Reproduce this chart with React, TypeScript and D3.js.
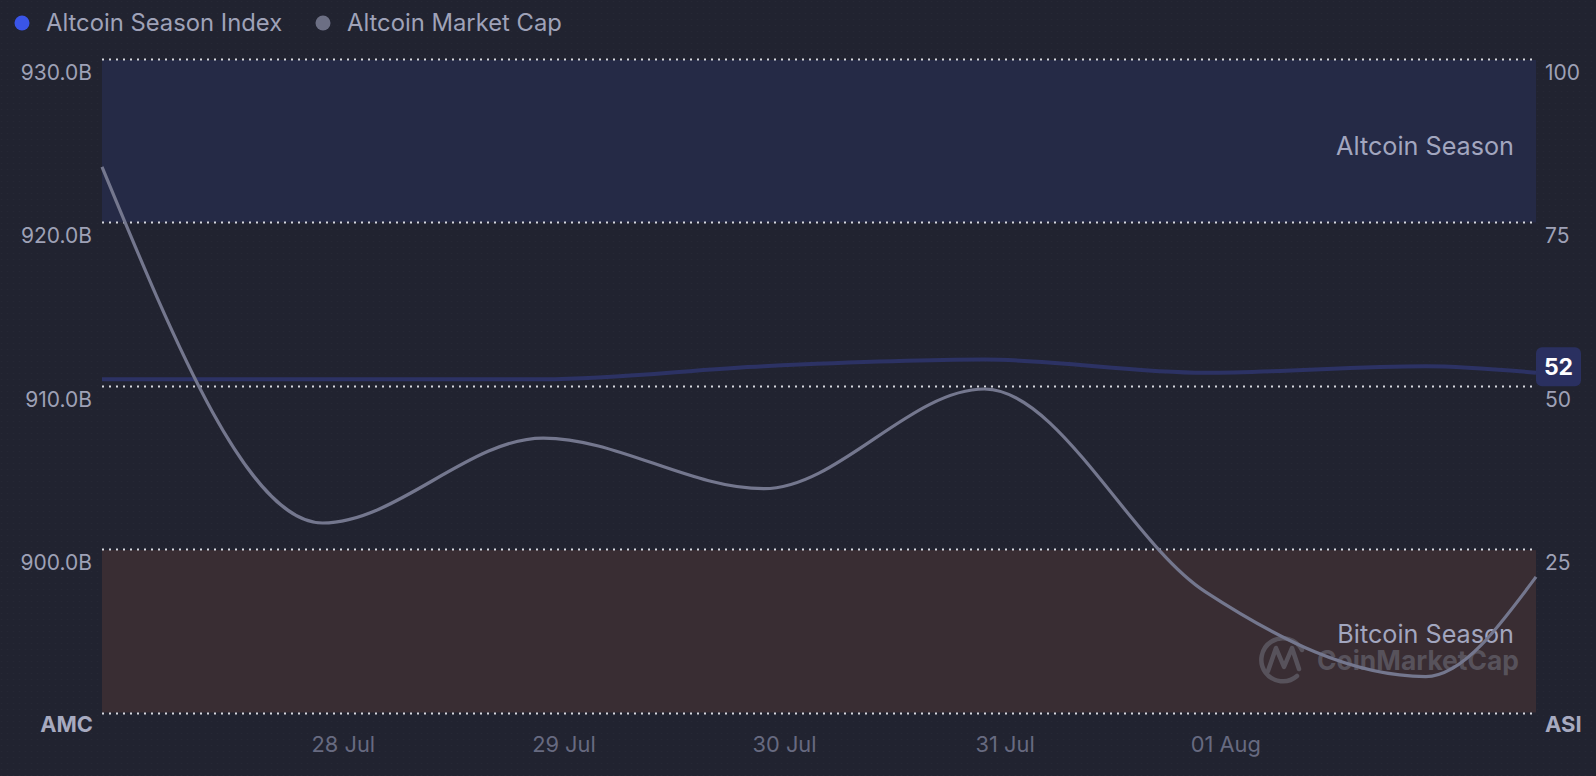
import React from "react";
import * as d3 from "d3";

const W = 1596;
const H = 776;

const dates = [
  "2024-07-26T21:45:00Z",
  "2024-07-27T21:45:00Z",
  "2024-07-28T21:45:00Z",
  "2024-07-29T21:45:00Z",
  "2024-07-30T21:45:00Z",
  "2024-07-31T21:45:00Z",
  "2024-08-01T21:45:00Z",
  "2024-08-02T09:45:00Z",
];
const altcoinSeasonIndex = [51, 51, 51, 53, 54, 52, 53, 52];
const altcoinMarketCap = [923.4, 901.6, 906.8, 903.7, 909.8, 897.4, 892.2, 898.3];

const capTicks = [890, 900, 910, 920, 930];
const capTickLabels = ["", "900.0B", "910.0B", "920.0B", "930.0B"];
const asiTicks = [0, 25, 50, 75, 100];
const asiTickLabels = ["", "25", "50", "75", "100"];
const xTickDates = ["2024-07-28", "2024-07-29", "2024-07-30", "2024-07-31", "2024-08-01"];
const xTickLabels = ["28 Jul", "29 Jul", "30 Jul", "31 Jul", "01 Aug"];

const legendItems = [
  { label: "Altcoin Season Index", color: "#3a55e8" },
  { label: "Altcoin Market Cap", color: "#6c6f84" },
];

const FONT = "Inter, 'Noto Sans', sans-serif";

export default function App() {
  const left = 102;
  const right = 1536;
  const top = 59;
  const bottom = 712.5;

  const parsed = dates.map((d) => new Date(d));
  const x = d3
    .scaleUtc()
    .domain([parsed[0], parsed[parsed.length - 1]])
    .range([left, right]);
  const yCap = d3.scaleLinear().domain([890, 930]).range([bottom, top]);
  const yAsi = d3.scaleLinear().domain([0, 100]).range([bottom, top]);

  const capLine = d3
    .line<number>()
    .x((_, i) => x(parsed[i]))
    .y((v) => yCap(v))
    .curve(d3.curveMonotoneX)(altcoinMarketCap) as string;
  const asiLine = d3
    .line<number>()
    .x((_, i) => x(parsed[i]))
    .y((v) => yAsi(v))
    .curve(d3.curveMonotoneX)(altcoinSeasonIndex) as string;

  const lastAsi = altcoinSeasonIndex[altcoinSeasonIndex.length - 1];
  const badgeCy = yAsi(lastAsi) - 6;

  return (
    <svg
      width={W}
      height={H}
      style={{ position: "absolute", left: 0, top: 0, display: "block", background: "#212330" }}
      fontFamily={FONT}
    >
      <defs>
        <pattern id="dots" width="6" height="6" patternUnits="userSpaceOnUse">
          <circle cx="1.5" cy="1.5" r="0.6" fill="rgba(255,255,255,0.025)" />
        </pattern>
      </defs>
      <rect x={0} y={0} width={W} height={H} fill="#212330" />
      <rect x={0} y={0} width={W} height={H} fill="url(#dots)" />

      {/* legend */}
      <g>
        <circle cx={22} cy={23} r={7.5} fill={legendItems[0].color} />
        <text x={46} y={31} fontSize={23.8} fill="#9fa2b8">
          {legendItems[0].label}
        </text>
        <circle cx={323} cy={23} r={7.5} fill={legendItems[1].color} />
        <text x={347} y={31} fontSize={23.8} fill="#9fa2b8">
          {legendItems[1].label}
        </text>
      </g>

      {/* bands */}
      <rect x={left} y={yAsi(100) + 1} width={right - left} height={yAsi(75) - yAsi(100) - 1} fill="#252a46" />
      <rect x={left} y={yAsi(25) + 1} width={right - left} height={yAsi(0) - yAsi(25) - 1} fill="#392d33" />

      {/* band labels */}
      <text x={1514} y={155} textAnchor="end" fontSize={25.2} fill="#a2a6bf">
        Altcoin Season
      </text>
      <text x={1514} y={643} textAnchor="end" fontSize={25.2} fill="#a2a6bf">
        Bitcoin Season
      </text>

      {/* watermark */}
      <g opacity={0.45} stroke="#7d7f8c" fill="none">
        <path
          d="M 1302 650 A 21.5 21.5 0 1 0 1297 676"
          strokeWidth={4.5}
          strokeLinecap="round"
        />
        <path
          d="M 1268 671 L 1276 648 L 1284 667 L 1292 648 L 1299 669"
          strokeWidth={4.5}
          strokeLinejoin="round"
          strokeLinecap="round"
        />
      </g>
      <text
        x={1317}
        y={670}
        fontSize={27}
        fontWeight={700}
        fill="#7d7f8c"
        opacity={0.45}
        textLength={202}
        lengthAdjust="spacingAndGlyphs"
      >
        CoinMarketCap
      </text>

      {/* gridlines */}
      {asiTicks.map((t) => (
        <line
          key={"g" + t}
          x1={left}
          x2={right}
          y1={Math.round(yAsi(t)) + 0.5}
          y2={Math.round(yAsi(t)) + 0.5}
          stroke="#d6d7de"
          strokeWidth={2}
          strokeDasharray="2 5"
        />
      ))}

      {/* series */}
      <path d={asiLine} fill="none" stroke="#2c3264" strokeWidth={4} />
      <path d={capLine} fill="none" stroke="#74778e" strokeWidth={3.2} />

      {/* left axis */}
      {capTicks.map((t, i) =>
        capTickLabels[i] ? (
          <text key={"l" + t} x={92} y={yCap(t) + 21} textAnchor="end" fontSize={21} fill="#9ea1b6">
            {capTickLabels[i]}
          </text>
        ) : null
      )}
      <text x={93} y={731.5} textAnchor="end" fontSize={21.8} fontWeight={700} fill="#a7aac0">
        AMC
      </text>

      {/* right axis */}
      {asiTicks.map((t, i) =>
        asiTickLabels[i] ? (
          <text key={"r" + t} x={1545} y={yAsi(t) + 21} textAnchor="start" fontSize={21} fill="#9ea1b6">
            {asiTickLabels[i]}
          </text>
        ) : null
      )}
      <text x={1545} y={731.5} textAnchor="start" fontSize={22} fontWeight={700} fill="#a7aac0">
        ASI
      </text>

      {/* x axis */}
      {xTickDates.map((d, i) => (
        <text
          key={d}
          x={x(new Date(d + "T00:00:00Z"))}
          y={752}
          textAnchor="middle"
          fontSize={21.8}
          fill="#676a80"
        >
          {xTickLabels[i]}
        </text>
      ))}

      {/* current value badge */}
      <rect x={1536} y={badgeCy - 19.5} width={45} height={39} rx={6} fill="#2a3060" />
      <text
        x={1558.5}
        y={badgeCy + 8}
        textAnchor="middle"
        fontSize={23}
        fontWeight={700}
        fill="#ffffff"
      >
        {lastAsi}
      </text>
    </svg>
  );
}
